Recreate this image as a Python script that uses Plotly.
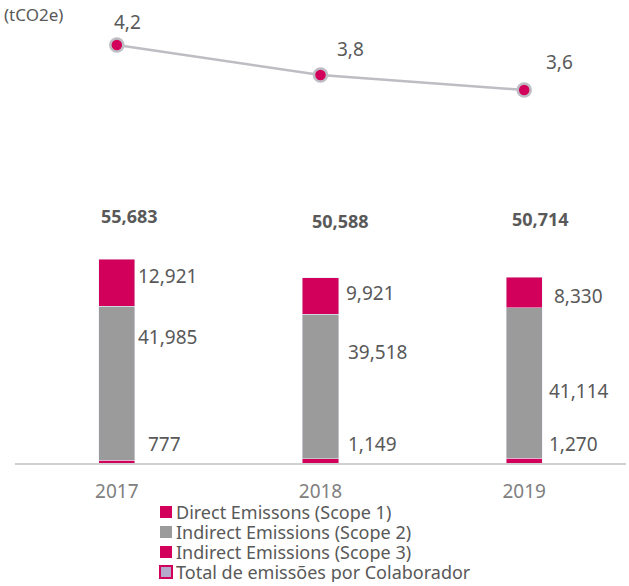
import plotly.graph_objects as go

years = ["2017", "2018", "2019"]
scope1 = [777, 1149, 1270]
scope2 = [41985, 39518, 41114]
scope3 = [12921, 9921, 8330]
per_employee = [4.2, 3.8, 3.6]
totals = [a + b + c for a, b, c in zip(scope1, scope2, scope3)]

names = ["Direct Emissons (Scope 1)", "Indirect Emissions (Scope 2)",
         "Indirect Emissions (Scope 3)", "Total de emissões por Colaborador"]
unit_label = "(tCO2e)"

PINK = "#D2005A"
GRAY = "#9B9B9B"
LINEGRAY = "#BDBDC3"
LAVENDER = "#B4A9CC"
TXT = "#595959"
FONT = "Noto Sans"

W, H = 629, 586
ML, MR, MT, MB = 15, 3, 10, 123
PW, PH = W - ML - MR, H - MT - MB


def px(xp):
    return (xp - ML) / PW


def py(yp):
    return (H - MB - yp) / PH


fig = go.Figure()
fig.add_bar(x=years, y=scope1, name=names[0], marker_color=PINK)
fig.add_bar(x=years, y=scope2, name=names[1], marker_color=GRAY)
fig.add_bar(x=years, y=scope3, name=names[2], marker_color=PINK)
fig.add_scatter(x=years, y=per_employee, mode="lines+markers", yaxis="y2", name=names[3],
                line=dict(color=LINEGRAY, width=2.5),
                marker=dict(color=PINK, size=13, line=dict(color=LINEGRAY, width=2.5)),
                hoverinfo="skip")

ann = []
# line labels
line_dx = [11, 30, 35]
line_dy = [23, 26, 28]
for i in range(len(years)):
    ann.append(dict(x=i, y=per_employee[i], yref="y2",
                    text=f"{per_employee[i]}".replace(".", ","),
                    showarrow=False, xshift=line_dx[i], yshift=line_dy[i],
                    font=dict(size=19, color=TXT, family=FONT)))
# totals
tot_dx = [13, 20, 16]
tot_dy = [43, 57, 58]
for i in range(len(years)):
    ann.append(dict(x=i, y=totals[i], text=f"<b>{totals[i]:,}</b>", showarrow=False,
                    xshift=tot_dx[i], yshift=tot_dy[i],
                    font=dict(size=18, color=TXT, family=FONT)))
# segment labels
s3_dx = [19, 23, 28]
s3_dy = [-17, -15, -19]
s2_dx = [19, 25, 23]
s2_dy = [-31, -38, -83]
s1_dx = [29, 25, 23]
for i in range(len(years)):
    ann.append(dict(x=i, y=totals[i], text=f"{scope3[i]:,}", showarrow=False,
                    xanchor="left", xshift=s3_dx[i], yshift=s3_dy[i],
                    font=dict(size=19, color=TXT, family=FONT)))
    ann.append(dict(x=i, y=scope1[i] + scope2[i], text=f"{scope2[i]:,}", showarrow=False,
                    xanchor="left", xshift=s2_dx[i], yshift=s2_dy[i],
                    font=dict(size=19, color=TXT, family=FONT)))
    ann.append(dict(x=i, y=0, text=f"{scope1[i]:,}", showarrow=False,
                    xanchor="left", xshift=s1_dx[i], yshift=19,
                    font=dict(size=19, color=TXT, family=FONT)))
ann.append(dict(xref="paper", yref="paper", x=px(2), y=py(15), xanchor="left", yanchor="middle",
                text=unit_label, showarrow=False, font=dict(size=17, color=TXT, family=FONT)))

# legend (drawn as text rows with square keys)
leg_rows = [512, 532, 552, 572]
leg_fill = [PINK, GRAY, PINK, LAVENDER]
leg_border = [PINK, GRAY, PINK, PINK]
shapes = []
for name, yc, fc, bc in zip(names, leg_rows, leg_fill, leg_border):
    ann.append(dict(xref="paper", yref="paper", x=px(174), y=py(yc), xanchor="left",
                    yanchor="middle", text=name, showarrow=False, height=20,
                    font=dict(size=18, color=TXT, family=FONT)))
    shapes.append(dict(type="rect", xref="paper", yref="paper",
                       x0=px(160), x1=px(172), y0=py(yc + 6), y1=py(yc - 6),
                       fillcolor=fc, line=dict(color=bc, width=2 if bc != fc else 0)))

fig.update_layout(
    width=W, height=H,
    margin=dict(l=ML, r=MR, t=MT, b=MB, autoexpand=False),
    barmode="stack", bargap=0.823,
    plot_bgcolor="white", paper_bgcolor="white",
    font=dict(family=FONT, color=TXT),
    xaxis=dict(type="category", range=[-0.5, 2.5], showgrid=False, showline=True,
               linecolor="#D0D0D0", linewidth=2,
               tickfont=dict(size=19, color="#808080"), ticks="outside", ticklen=10,
               tickcolor="rgba(0,0,0,0)"),
    yaxis=dict(range=[0, 123650], visible=False, showgrid=False),
    yaxis2=dict(range=[-1.373, 4.667], visible=False, overlaying="y", showgrid=False),
    showlegend=False,
    annotations=ann,
    shapes=shapes,
)
fig.write_html("out.html", config={"displayModeBar": False},
               post_script="document.body.style.margin='0px';document.body.style.overflow='hidden';")
